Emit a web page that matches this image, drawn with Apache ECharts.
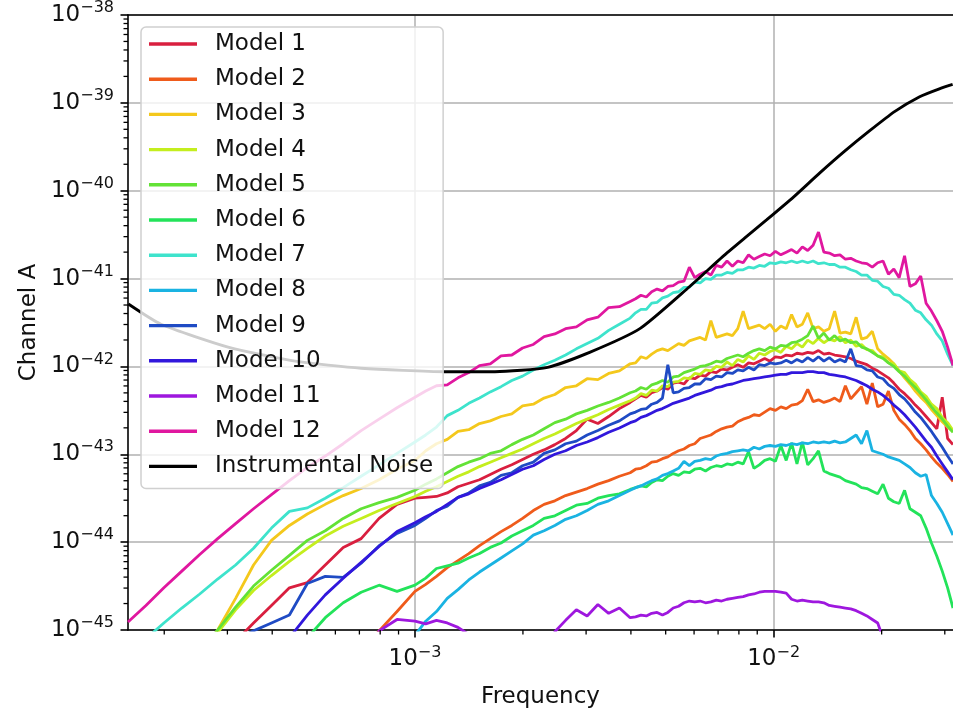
<!DOCTYPE html>
<html>
<head>
<meta charset="utf-8">
<script src="https://cdn.jsdelivr.net/npm/echarts@6/dist/echarts.min.js"></script>
<style>html,body{margin:0;padding:0;background:#fff}#chart{width:953px;height:714px}</style>
</head>
<body>
<div id="chart"></div>
<script>
// Frequency grid (log10 of Hz) shared by the model spectra
const freqLog10 = [-3.80,-3.75,-3.70,-3.65,-3.60,-3.55,-3.50,-3.45,-3.40,-3.35,-3.30,-3.25,-3.20,-3.15,-3.10,-3.05,-3.00,
-2.97,-2.94,-2.91,-2.88,-2.85,-2.82,-2.79,-2.76,-2.73,-2.70,-2.67,-2.64,-2.61,-2.58,-2.55,-2.52,-2.49,-2.46,-2.43,-2.40,
-2.385,-2.37,-2.355,-2.34,-2.325,-2.31,-2.295,-2.28,-2.265,-2.25,-2.235,-2.22,-2.205,-2.19,-2.175,-2.16,-2.145,-2.13,-2.115,-2.10,
-2.085,-2.07,-2.055,-2.04,-2.025,-2.01,-1.995,-1.98,-1.965,-1.95,-1.935,-1.92,-1.905,-1.89,-1.875,-1.86,-1.845,-1.83,-1.815,-1.80,
-1.785,-1.77,-1.755,-1.74,-1.725,-1.71,-1.695,-1.68,-1.665,-1.65,-1.635,-1.62,-1.605,-1.59,-1.575,-1.56,-1.545,-1.53,-1.515,-1.50];

// Channel A spectra, log10 values
const model1 = [-46.34,-46.14,-45.93,-45.73,-45.52,-45.32,-45.13,-44.92,-44.72,-44.52,-44.46,-44.26,-44.06,-43.96,-43.73,-43.57,-43.50,
-43.49,-43.48,-43.44,-43.37,-43.33,-43.29,-43.23,-43.17,-43.12,-43.06,-43.00,-42.95,-42.89,-42.82,-42.73,-42.60,-42.65,-42.57,-42.48,-42.41,
-42.37,-42.33,-42.35,-42.30,-42.28,-42.24,-42.26,-42.19,-42.18,-42.20,
-42.13,-42.14,-42.10,-42.11,-42.06,-42.07,-42.03,-42.04,-42.01,-41.98,
-42.01,-41.96,-41.97,-41.94,-41.91,-41.94,-41.89,-41.90,-41.87,-41.88,
-41.85,-41.86,-41.84,-41.85,-41.82,-41.86,-41.85,-41.87,-41.88,-41.89,
-41.91,-41.94,-41.96,-41.98,-42.02,-42.05,-42.09,-42.13,-42.19,-42.26,
-42.31,-42.37,-42.44,-42.50,-42.57,-42.64,-42.71,-42.35,-42.82,-42.89];
const model2 = [-48.19,-47.96,-47.74,-47.51,-47.28,-47.05,-46.83,-46.60,-46.37,-46.15,-45.92,-45.69,-45.47,-45.24,-45.01,-44.79,-44.56,
-44.48,-44.39,-44.29,-44.21,-44.13,-44.04,-43.96,-43.88,-43.81,-43.73,-43.64,-43.57,-43.53,-43.47,-43.43,-43.39,-43.34,-43.30,-43.25,-43.21,
-43.17,-43.16,-43.13,-43.09,-43.08,-43.05,-43.03,-42.99,-42.96,-42.94,
-42.90,-42.88,-42.82,-42.80,-42.78,-42.74,-42.71,-42.69,-42.68,-42.63,
-42.60,-42.58,-42.55,-42.56,-42.52,-42.48,-42.50,-42.46,-42.48,-42.44,
-42.43,-42.39,-42.26,-42.40,-42.38,-42.41,-42.39,-42.36,-42.40,-42.22,
-42.37,-42.30,-42.23,-42.43,-42.19,-42.46,-42.43,-42.28,-42.50,-42.60,
-42.66,-42.73,-42.82,-42.88,-42.95,-43.03,-43.10,-43.16,-43.23,-43.31];
const model3 = [-46.96,-46.57,-46.17,-45.77,-45.38,-45.00,-44.64,-44.26,-43.98,-43.81,-43.68,-43.57,-43.47,-43.39,-43.29,-43.17,-43.07,
-42.96,-42.88,-42.83,-42.74,-42.72,-42.65,-42.62,-42.57,-42.54,-42.45,-42.43,-42.36,-42.32,-42.24,-42.22,-42.14,-42.15,-42.08,-42.05,-41.97,
-41.96,-41.89,-41.91,-41.86,-41.82,-41.80,-41.82,-41.78,-41.74,-41.76,
-41.71,-41.69,-41.67,-41.70,-41.48,-41.67,-41.65,-41.63,-41.65,-41.57,
-41.37,-41.57,-41.55,-41.53,-41.57,-41.52,-41.60,-41.54,-41.57,-41.41,
-41.55,-41.52,-41.39,-41.57,-41.55,-41.60,-41.57,-41.37,-41.62,-41.61,
-41.63,-41.44,-41.69,-41.67,-41.60,-41.80,-41.86,-41.91,-41.97,-42.05,
-42.13,-42.20,-42.28,-42.35,-42.41,-42.49,-42.56,-42.63,-42.69,-42.74];
const model4 = [-46.40,-46.11,-45.83,-45.55,-45.26,-45.03,-44.77,-44.55,-44.38,-44.22,-44.07,-43.93,-43.82,-43.73,-43.64,-43.56,-43.48,
-43.42,-43.37,-43.31,-43.25,-43.20,-43.14,-43.09,-43.04,-42.99,-42.94,-42.88,-42.82,-42.77,-42.71,-42.65,-42.60,-42.55,-42.49,-42.44,-42.39,
-42.36,-42.31,-42.33,-42.27,-42.28,-42.22,-42.23,-42.18,-42.17,-42.13,
-42.14,-42.08,-42.09,-42.04,-42.05,-42.00,-42.01,-41.95,-41.99,-41.92,
-41.95,-41.88,-41.92,-41.85,-41.87,-41.83,-41.81,-41.84,-41.77,-41.80,
-41.74,-41.78,-41.70,-41.74,-41.68,-41.73,-41.69,-41.71,-41.66,-41.73,
-41.70,-41.77,-41.75,-41.81,-41.82,-41.88,-41.89,-41.96,-41.97,-42.05,
-42.07,-42.15,-42.20,-42.29,-42.34,-42.43,-42.48,-42.58,-42.64,-42.73];
const model5 = [-46.34,-46.06,-45.77,-45.49,-45.23,-45.00,-44.74,-44.50,-44.32,-44.15,-43.98,-43.87,-43.73,-43.62,-43.55,-43.49,-43.41,
-43.34,-43.28,-43.21,-43.14,-43.09,-43.05,-42.99,-42.96,-42.89,-42.83,-42.78,-42.71,-42.64,-42.60,-42.54,-42.50,-42.45,-42.41,-42.36,-42.30,
-42.28,-42.24,-42.26,-42.21,-42.19,-42.16,-42.18,-42.12,-42.11,-42.07,
-42.05,-42.03,-42.00,-41.99,-41.97,-41.94,-41.95,-41.91,-41.89,-41.87,
-41.89,-41.85,-41.82,-41.80,-41.82,-41.78,-41.80,-41.76,-41.77,-41.73,
-41.72,-41.69,-41.65,-41.54,-41.68,-41.62,-41.70,-41.65,-41.71,-41.69,
-41.73,-41.72,-41.78,-41.80,-41.84,-41.88,-41.91,-41.96,-42.00,-42.06,
-42.11,-42.18,-42.24,-42.31,-42.38,-42.46,-42.53,-42.60,-42.68,-42.75];
const model6 = [-47.70,-47.44,-47.18,-46.92,-46.66,-46.40,-46.14,-45.87,-45.61,-45.35,-45.09,-44.86,-44.69,-44.57,-44.49,-44.56,-44.49,
-44.41,-44.30,-44.27,-44.24,-44.18,-44.13,-44.06,-44.01,-43.93,-43.87,-43.81,-43.73,-43.70,-43.64,-43.58,-43.56,-43.50,-43.47,-43.45,-43.40,
-43.38,-43.36,-43.37,-43.32,-43.29,-43.30,-43.25,-43.22,-43.24,-43.20,
-43.21,-43.17,-43.16,-43.19,-43.15,-43.13,-43.14,-43.11,-43.12,-43.09,
-43.11,-42.97,-43.16,-43.12,-43.07,-43.05,-43.08,-42.90,-43.07,-42.87,
-43.11,-42.86,-43.12,-43.05,-42.96,-43.19,-43.22,-43.24,-43.26,-43.30,
-43.32,-43.34,-43.38,-43.39,-43.42,-43.45,-43.34,-43.50,-43.54,-43.56,
-43.41,-43.62,-43.66,-43.70,-43.84,-44.01,-44.16,-44.33,-44.52,-44.75];
const model7 = [-45.26,-45.10,-44.92,-44.75,-44.59,-44.42,-44.26,-44.07,-43.84,-43.65,-43.61,-43.50,-43.38,-43.25,-43.12,-42.99,-42.86,
-42.78,-42.69,-42.56,-42.50,-42.42,-42.36,-42.29,-42.23,-42.16,-42.11,-42.04,-41.98,-41.93,-41.87,-41.80,-41.74,-41.68,-41.59,-41.52,-41.45,
-41.39,-41.35,-41.35,-41.28,-41.27,-41.22,-41.20,-41.16,-41.15,-41.10,
-41.10,-41.04,-41.05,-41.00,-41.01,-40.96,-40.96,-40.93,-40.94,-40.90,
-40.90,-40.87,-40.88,-40.85,-40.86,-40.82,-40.83,-40.81,-40.82,-40.80,
-40.82,-40.80,-40.82,-40.80,-40.83,-40.82,-40.84,-40.84,-40.87,-40.87,
-40.90,-40.92,-40.96,-40.96,-41.02,-41.03,-41.09,-41.11,-41.18,-41.19,
-41.24,-41.28,-41.36,-41.39,-41.47,-41.53,-41.63,-41.71,-41.86,-41.99];
const model8 = [-49.05,-48.80,-48.55,-48.30,-48.05,-47.80,-47.55,-47.30,-47.05,-46.80,-46.56,-46.31,-46.06,-45.81,-45.56,-45.31,-45.06,
-44.90,-44.79,-44.64,-44.54,-44.43,-44.34,-44.26,-44.18,-44.10,-44.02,-43.92,-43.87,-43.81,-43.74,-43.70,-43.64,-43.57,-43.53,-43.47,-43.41,
-43.38,-43.36,-43.33,-43.30,-43.28,-43.24,-43.22,-43.19,-43.16,-43.08,
-43.13,-43.08,-43.07,-43.05,-43.06,-43.02,-43.00,-42.99,-42.97,-42.96,
-42.95,-42.96,-42.92,-42.94,-42.91,-42.90,-42.91,-42.89,-42.90,-42.88,
-42.89,-42.87,-42.88,-42.86,-42.87,-42.86,-42.87,-42.85,-42.87,-42.86,
-42.82,-42.78,-42.88,-42.73,-42.96,-42.98,-43.00,-43.03,-43.05,-43.07,
-43.11,-43.15,-43.21,-43.25,-43.23,-43.47,-43.56,-43.66,-43.79,-43.92];
const model9 = [-45.77,-45.66,-45.55,-45.43,-45.32,-45.20,-45.11,-45.01,-44.92,-44.83,-44.47,-44.39,-44.40,-44.24,-44.04,-43.90,-43.81,
-43.73,-43.64,-43.59,-43.49,-43.44,-43.36,-43.32,-43.24,-43.21,-43.13,-43.09,-42.99,-42.95,-42.88,-42.85,-42.78,-42.73,-42.67,-42.62,-42.54,
-42.52,-42.49,-42.48,-42.43,-42.41,-42.36,-41.98,-42.30,-42.29,-42.25,
-42.24,-42.20,-42.20,-42.14,-42.15,-42.11,-42.12,-42.07,-42.08,-42.04,
-42.05,-42.01,-42.04,-41.98,-41.99,-41.96,-41.97,-41.96,-41.93,-41.96,
-41.92,-41.95,-41.90,-41.94,-41.89,-41.94,-41.90,-41.95,-41.92,-41.95,
-41.80,-41.99,-42.00,-42.04,-42.05,-42.12,-42.14,-42.21,-42.25,-42.32,
-42.37,-42.44,-42.52,-42.58,-42.66,-42.74,-42.83,-42.92,-43.02,-43.11];
const model10 = [-47.34,-47.09,-46.84,-46.59,-46.34,-46.09,-45.84,-45.59,-45.34,-45.09,-44.83,-44.60,-44.41,-44.23,-44.05,-43.88,-43.78,
-43.71,-43.65,-43.57,-43.49,-43.45,-43.39,-43.34,-43.29,-43.23,-43.17,-43.13,-43.06,-43.00,-42.96,-42.90,-42.86,-42.81,-42.75,-42.70,-42.64,
-42.62,-42.58,-42.56,-42.53,-42.50,-42.48,-42.45,-42.42,-42.40,-42.38,
-42.36,-42.33,-42.31,-42.29,-42.27,-42.24,-42.23,-42.21,-42.20,-42.18,
-42.16,-42.15,-42.14,-42.13,-42.12,-42.11,-42.10,-42.09,-42.09,-42.07,
-42.07,-42.07,-42.06,-42.06,-42.07,-42.07,-42.09,-42.10,-42.11,-42.12,
-42.14,-42.16,-42.19,-42.22,-42.26,-42.29,-42.33,-42.38,-42.44,-42.49,
-42.55,-42.62,-42.69,-42.77,-42.85,-42.92,-43.02,-43.11,-43.20,-43.29];
const model11 = [-45.4,-45.4,-45.4,-45.4,-45.4,-45.4,-45.4,-45.4,-45.4,-45.4,-45.4,-45.4,-45.4,-45.4,-45.01,-44.88,-44.90,
-44.93,-44.89,-44.92,-44.97,-45.05,-45.4,-45.4,-45.4,-45.4,-45.4,-45.4,-45.4,-45.02,-44.89,-44.77,-44.84,-44.71,-44.81,-44.75,-44.86,
-44.85,-44.83,-44.84,-44.81,-44.80,-44.83,-44.80,-44.75,-44.73,-44.69,
-44.67,-44.68,-44.67,-44.69,-44.68,-44.66,-44.67,-44.65,-44.64,-44.63,
-44.62,-44.60,-44.59,-44.57,-44.56,-44.56,-44.56,-44.57,-44.58,-44.65,
-44.67,-44.66,-44.67,-44.68,-44.68,-44.69,-44.72,-44.73,-44.74,-44.75,
-44.76,-44.78,-44.81,-44.84,-44.88,-44.92,-45.09,-45.4,-45.4,-45.4,
-45.4,-45.4,-45.4,-45.4,-45.4,-45.4,-45.4,-45.4,-45.4,-45.4];
const model12 = [-44.91,-44.72,-44.52,-44.33,-44.14,-43.96,-43.79,-43.62,-43.46,-43.30,-43.15,-43.02,-42.88,-42.73,-42.60,-42.47,-42.35,
-42.28,-42.22,-42.21,-42.13,-42.07,-41.99,-41.97,-41.88,-41.87,-41.79,-41.75,-41.66,-41.63,-41.57,-41.55,-41.47,-41.44,-41.33,-41.32,-41.26,
-41.23,-41.19,-41.21,-41.15,-41.12,-41.14,-41.09,-41.08,-41.04,-41.03,
-40.87,-40.99,-40.95,-40.92,-40.96,-40.85,-40.87,-40.80,-40.86,-40.80,
-40.82,-40.73,-40.78,-40.75,-40.72,-40.74,-40.69,-40.73,-40.70,-40.67,
-40.71,-40.64,-40.68,-40.62,-40.47,-40.70,-40.71,-40.74,-40.73,-40.78,
-40.77,-40.80,-40.82,-40.83,-40.87,-40.82,-40.80,-40.95,-40.89,-40.99,
-40.74,-41.09,-41.06,-40.97,-41.28,-41.37,-41.48,-41.60,-41.78,-41.99];

// Instrumental noise curve (log10 frequency, log10 value)
const noiseFreqLog10 = [-3.799,-3.708,-3.521,-3.334,-3.150,-2.916,-2.777,-2.630,-2.513,-2.373,-2.234,-2.142,-2.081,-2.019,-1.944,-1.872,-1.802,-1.733,-1.663,-1.593,-1.538,-1.501];
const noiseLog10 = [-41.29,-41.52,-41.78,-41.94,-42.02,-42.06,-42.06,-42.01,-41.84,-41.57,-41.09,-40.75,-40.54,-40.33,-40.07,-39.80,-39.55,-39.32,-39.10,-38.93,-38.84,-38.79];

const seriesNames = ['Model 1','Model 2','Model 3','Model 4','Model 5','Model 6','Model 7','Model 8','Model 9','Model 10','Model 11','Model 12','Instrumental Noise'];
const seriesColors = ['#d91f3f','#ef5b1b','#f4c81c','#c4ee1e','#63e236','#23e35a','#3ee3cc','#1ab3e2','#1f4bc4','#3117dc','#9e17de','#e0179f','#000000'];
const modelValues = [model1,model2,model3,model4,model5,model6,model7,model8,model9,model10,model11,model12];

// Axis ticks
const xTickExponents = [-3, -2];
const yTickExponents = [-45, -44, -43, -42, -41, -40, -39, -38];
const xMinorTicks = [2e-4,3e-4,4e-4,5e-4,6e-4,7e-4,8e-4,9e-4,2e-3,3e-3,4e-3,5e-3,6e-3,7e-3,8e-3,9e-3,2e-2,3e-2];
const minorMantissas = [2,3,4,5,6,7,8,9];

const X_MIN = Math.pow(10, -3.8), X_MAX = Math.pow(10, -1.5);
const FONT = 'DejaVu Sans';
const TXT = '#111';

const supRich = {
  b: {fontSize: 23, fontFamily: FONT, color: TXT, lineHeight: 27},
  s: {fontSize: 16, fontFamily: FONT, color: TXT, padding: [0, 0, 14, 0], lineHeight: 17}
};
function expLabel(e) { return '{b|10}{s|\u2212' + Math.abs(e) + '}'; }

const series = modelValues.map((vals, k) => ({
  name: seriesNames[k], type: 'line', showSymbol: false, symbol: 'none',
  data: freqLog10.map((fe, i) => [Math.pow(10, fe), vals[i]]),
  lineStyle: {width: 2.8, color: seriesColors[k]}, itemStyle: {color: seriesColors[k]},
  clip: true, silent: true, z: 2
}));
series.push({
  name: 'Instrumental Noise', type: 'line', showSymbol: false, symbol: 'none', smooth: 0.2,
  data: noiseFreqLog10.map((fe, i) => [Math.pow(10, fe), noiseLog10[i]]),
  lineStyle: {width: 2.9, color: '#000'}, itemStyle: {color: '#000'}, clip: true, silent: true, z: 2
});
// minor ticks, placed through the axes' own scales
series.push({
  name: '_minorTicks', type: 'custom', coordinateSystem: 'cartesian2d', silent: true, clip: false, z: 6,
  data: [[X_MIN, -45]],
  renderItem: function (params, api) {
    const children = [];
    xMinorTicks.forEach(f => {
      const p = api.coord([f, -45]);
      children.push({type: 'line', shape: {x1: p[0], y1: p[1], x2: p[0], y2: p[1] + 4.5}, style: {stroke: '#000', lineWidth: 1.3}});
    });
    for (let k = -45; k < -38; k++) {
      minorMantissas.forEach(m => {
        const p = api.coord([X_MIN, k + Math.log10(m)]);
        children.push({type: 'line', shape: {x1: p[0] - 4.5, y1: p[1], x2: p[0], y2: p[1]}, style: {stroke: '#000', lineWidth: 1.3}});
      });
    }
    return {type: 'group', children: children};
  }
});

const chart = echarts.init(document.getElementById('chart'), null, {renderer: 'canvas'});
chart.setOption({
  animation: false,
  backgroundColor: '#fff',
  grid: {left: 128, right: 0, top: 15, bottom: 82, containLabel: false},
  xAxis: [{
    type: 'log', logBase: 10, min: X_MIN, max: X_MAX,
    name: 'Frequency', nameLocation: 'middle', nameGap: 56,
    nameTextStyle: {fontSize: 23, fontFamily: FONT, color: TXT},
    axisLine: {show: true, onZero: false, lineStyle: {color: '#000', width: 1.6}},
    axisTick: {show: true, length: 7.5, lineStyle: {color: '#000', width: 1.6}, customValues: xTickExponents.map(e => Math.pow(10, e))},
    axisLabel: {
      margin: 16, customValues: xTickExponents.map(e => Math.pow(10, e)),
      formatter: function (v) {
        const l = Math.log10(v), e = Math.round(l);
        if (Math.abs(l - e) > 1e-6 || xTickExponents.indexOf(e) < 0) return '';
        return expLabel(e);
      },
      rich: supRich
    },
    splitLine: {show: true, lineStyle: {color: '#b0b0b0', width: 1.5}}
  }, {
    type: 'log', logBase: 10, min: X_MIN, max: X_MAX, position: 'top',
    axisLine: {show: true, onZero: false, lineStyle: {color: '#000', width: 1.6}},
    axisTick: {show: false}, axisLabel: {show: false}, splitLine: {show: false}
  }],
  yAxis: {
    type: 'value', min: yTickExponents[0], max: yTickExponents[yTickExponents.length - 1], interval: 1,
    name: 'Channel A', nameLocation: 'middle', nameGap: 87,
    nameTextStyle: {fontSize: 23, fontFamily: FONT, color: TXT},
    axisLine: {show: true, onZero: false, lineStyle: {color: '#000', width: 1.6}},
    axisTick: {show: true, length: 7.5, lineStyle: {color: '#000', width: 1.6}},
    axisLabel: {margin: 14, formatter: v => expLabel(v), rich: supRich},
    splitLine: {show: true, lineStyle: {color: '#b0b0b0', width: 1.5}}
  },
  legend: {
    data: seriesNames, orient: 'vertical', left: 141, top: 27,
    icon: 'rect', itemWidth: 48, itemHeight: 3.4, itemGap: 11.2,
    padding: [5, 10, 10, 8],
    backgroundColor: 'rgba(255,255,255,0.8)', borderColor: '#d0d0d0', borderWidth: 1.5, borderRadius: 5,
    textStyle: {fontSize: 23, fontFamily: FONT, color: TXT, lineHeight: 24, padding: [0, 0, 0, 13]},
    selectedMode: false, z: 10
  },
  series: series
});
</script>
</body>
</html>
